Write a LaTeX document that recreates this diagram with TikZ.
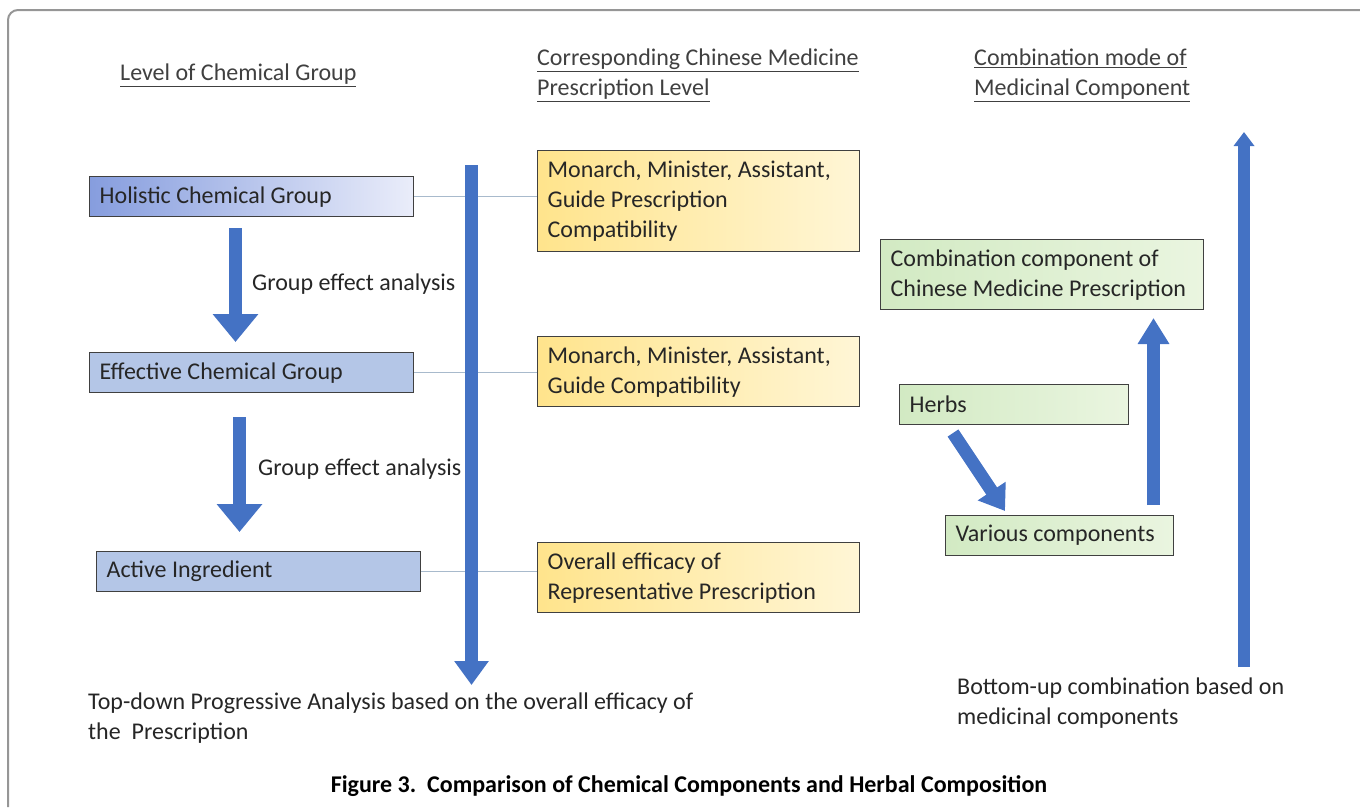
\documentclass[tikz,border=0pt]{standalone}
\usepackage{fontspec}
\setmainfont{Carlito}
\usetikzlibrary{arrows.meta}
\definecolor{arrowblue}{RGB}{68,114,196}
\definecolor{boxblue}{RGB}{180,198,231}
\definecolor{linkc}{RGB}{168,186,204}
\definecolor{headc}{RGB}{64,64,64}
\definecolor{framec}{RGB}{150,150,150}
\newcommand{\natsp}{\spaceskip=0pt\xspaceskip=0pt\relax}
\tikzset{
  x=1pt,y=-1pt,
  txt/.style={font=\fontsize{24}{30}\selectfont, text=black!85},
  boxbase/.style={txt, draw=black!75, line width=1.3pt, anchor=north west, align=flush left, inner xsep=10pt, inner ysep=0pt},
  bluebox/.style={boxbase, fill=boxblue, minimum height=40pt, text width=304pt},
  yelbox/.style={boxbase, left color={rgb,255:red,255;green,228;blue,140}, right color={rgb,255:red,255;green,246;blue,214}, text width=302pt},
  grnbox/.style={boxbase, left color={rgb,255:red,210;green,234;blue,195}, right color={rgb,255:red,234;green,245;blue,224}},
  heading/.style={font=\fontsize{24}{30}\selectfont, text=headc, anchor=north west, align=left, inner sep=0pt},
  link/.style={draw=linkc, line width=1.4pt},
  blockarrow/.style={draw=arrowblue, line width=#1},
}
\begin{document}
\begin{tikzpicture}
\useasboundingbox (0,0) rectangle (1360,807);
% frame
\draw[framec, line width=2pt, rounded corners=10pt] (1360,10) -- (8,10) -- (8,807);

% headings
\node[heading] (h1) at (120,64) {\underline{Level of Chemical Group}};
\node[heading] (h2) at (537,49) {\underline{Corresponding Chinese Medicine}\\\underline{Prescription Level}};
\node[heading] (h3) at (974,49) {\underline{Combination mode of}\\\underline{Medicinal Component}};

% left boxes
\node[boxbase, minimum height=40pt, text width=304pt, left color={rgb,255:red,134;green,157;blue,222}, right color={rgb,255:red,234;green,237;blue,250}] (hol) at (89,176) {\natsp Holistic Chemical Group};
\node[bluebox] (eff) at (89,352) {\natsp Effective Chemical Group};
\node[bluebox] (act) at (96,551) {\natsp Active Ingredient};

% yellow boxes
\node[yelbox, minimum height=101pt] (y1) at (537,150) {\natsp Monarch, Minister, Assistant,\\Guide Prescription\\Compatibility};
\node[yelbox, minimum height=70pt] (y2) at (537,336) {\natsp Monarch, Minister, Assistant,\\Guide Compatibility};
\node[yelbox, minimum height=70pt] (y3) at (537,542) {\natsp Overall efficacy of\\Representative Prescription};

% links
\draw[link] (hol.east) -- (hol.east -| y1.west);
\draw[link] (eff.east) -- (eff.east -| y2.west);
\draw[link] (act.east) -- (act.east -| y3.west);

% green boxes
\node[grnbox, minimum height=70pt, text width=303pt] (g1) at (880,239) {\natsp Combination component of\\Chinese Medicine Prescription};
\node[grnbox, minimum height=40pt, text width=209pt] (herbs) at (899,384) {\natsp Herbs};
\node[grnbox, minimum height=40pt, text width=208pt] (var) at (945,515) {\natsp Various components};

% left arrows
\coordinate (a1s) at (235.5,228);
\coordinate (a1e) at (235.5,342);
\draw[blockarrow=13pt, -{Triangle[width=44pt,length=28pt]}] (a1s) -- (a1e);
\node[txt, anchor=west, inner sep=0pt] (l1) at (252,284) {Group effect analysis};
\coordinate (a2s) at (239.5,417);
\coordinate (a2e) at (239.5,532);
\draw[blockarrow=13pt, -{Triangle[width=44pt,length=28pt]}] (a2s) -- (a2e);
\node[txt, anchor=west, inner sep=0pt] (l2) at (258,469) {Group effect analysis};

% big central arrow
\coordinate (bs) at (471.5,165);
\coordinate (be) at (471.5,685);
\draw[blockarrow=13pt, -{Triangle[width=33pt,length=24pt]}] (bs) -- (be);

% right arrows
\coordinate (ds) at (953,433);
\coordinate (de) at (1005,511);
\draw[blockarrow=13pt, -{Triangle[width=32pt,length=24pt]}] (ds) -- (de);
\coordinate (vs) at (1153.5,505);
\coordinate (ve) at (1153.5,318);
\draw[blockarrow=13pt, -{Triangle[width=30pt,length=26pt]}] (vs) -- (ve);
\coordinate (ts) at (1244,667);
\coordinate (te) at (1244,132);
\draw[blockarrow=12pt, -{Triangle[width=20pt,length=14pt]}] (ts) -- (te);

% bottom texts
\node[txt, anchor=north west, align=left, inner sep=0pt] (bl) at (88,693) {Top-down Progressive Analysis based on the overall efficacy of\\the\ \ Prescription};
\node[txt, anchor=north west, align=left, inner sep=0pt] (br) at (957,678) {Bottom-up combination based on\\medicinal components};

% caption
\node[font=\fontsize{24}{26}\selectfont\bfseries, text=black, inner sep=0pt] (cap) at (689,786) {Figure 3.\ \ Comparison of Chemical Components and Herbal Composition};
\end{tikzpicture}
\end{document}
